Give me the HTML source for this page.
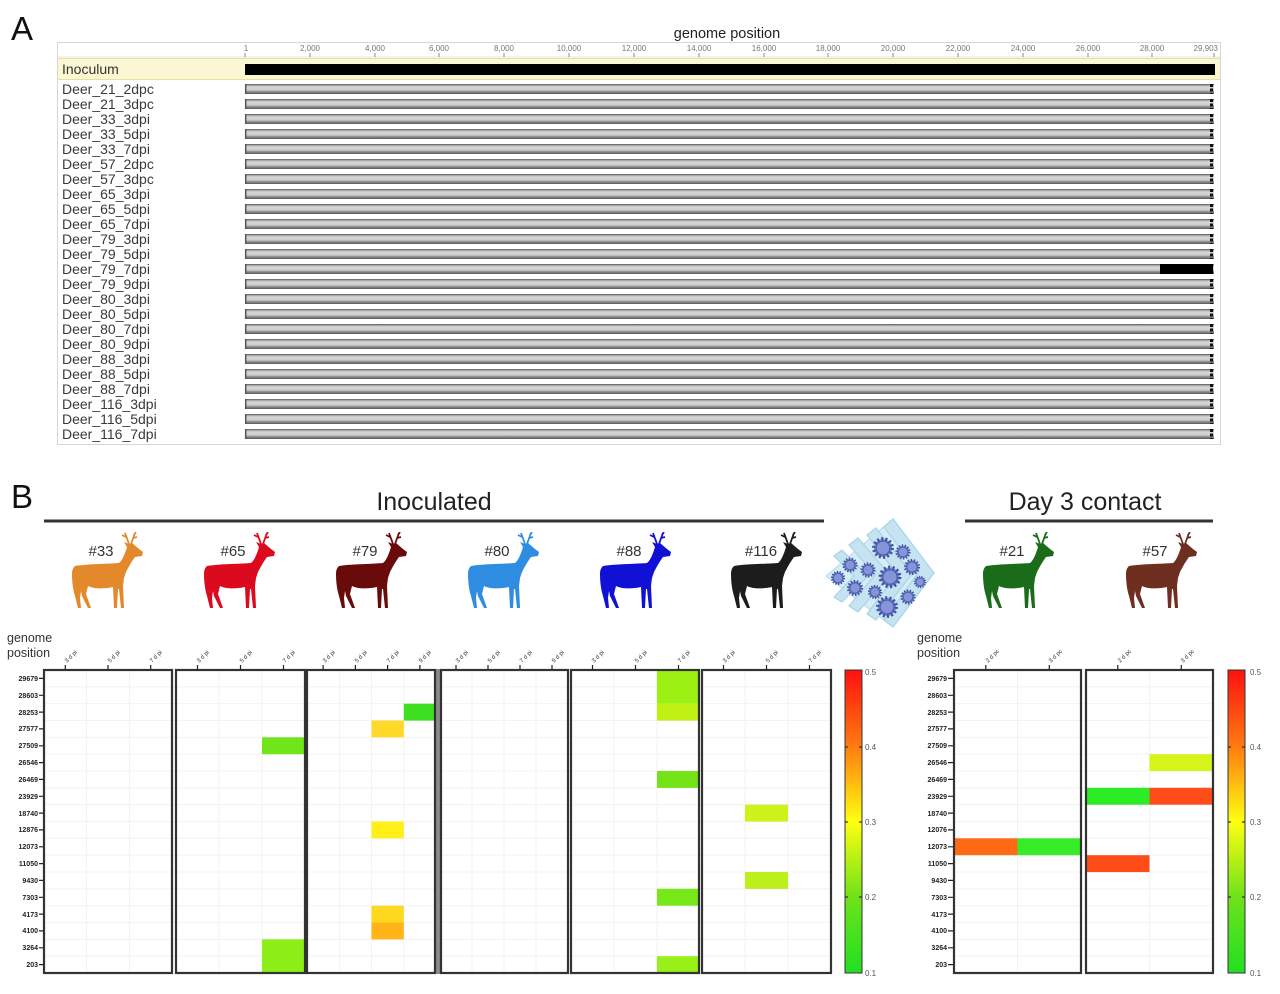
<!DOCTYPE html>
<html><head><meta charset="utf-8"><style>
html,body{margin:0;padding:0;background:#fff;}
svg{display:block;font-family:"Liberation Sans",sans-serif;}
</style></head><body>
<svg width="1280" height="994" viewBox="0 0 1280 994" xmlns="http://www.w3.org/2000/svg">
<defs>
<linearGradient id="bar" x1="0" y1="0" x2="0" y2="1">
<stop offset="0" stop-color="#555"/><stop offset="0.14" stop-color="#a8a8a8"/><stop offset="0.3" stop-color="#d6d6d6"/><stop offset="0.6" stop-color="#cdcdcd"/><stop offset="0.78" stop-color="#8a8a8a"/><stop offset="1" stop-color="#5a5a5a"/>
</linearGradient>
<linearGradient id="cb" x1="0" y1="0" x2="0" y2="1">
<stop offset="0" stop-color="#ff1010"/><stop offset="0.25" stop-color="#ff7a10"/><stop offset="0.5" stop-color="#ffff10"/><stop offset="0.75" stop-color="#6ee21a"/><stop offset="1" stop-color="#22e022"/>
</linearGradient>
<symbol id="deer" viewBox="0 0 72 76">
<path fill="currentColor" d="M3,34 C14,32 34,32 47,31 C50,29 53,22 55,15 L52,10 L57,12 L60,11 L67,17 L71,20 L70,24 L63,25 C60,29 57,34 54,40 L52,46 L51,54 L52,76 L49,76 L47,57 L46,57 L45,76 L42,76 L41,55 C32,57 22,57 16,54 L14,62 L19,76 L16,76 L10,64 L9,59 L8,66 L9,76 L6,76 L3,64 C1,58 0,50 0,42 C0,38 1,36 3,34 Z"/>
<path fill="none" stroke="currentColor" stroke-width="1.8" d="M57,12 L53,1 M54,5 L50,3 M59,12 L63,1 M61,6 L65,5 M62,3 L64,0"/>
</symbol>
<g id="vir"><circle r="8" fill="#7f90d6" stroke="#3d4f9f" stroke-width="3" stroke-dasharray="1.6 2"/><circle r="6" fill="#8595d8" stroke="#4a5aa8" stroke-width="1"/></g>
</defs>

<!-- Panel A -->
<text x="11" y="40" font-size="33" fill="#111">A</text>
<text x="727" y="38" font-size="14.5" fill="#222" text-anchor="middle">genome position</text>
<rect x="57.5" y="42.5" width="1163" height="402" fill="#fff" stroke="#d6d6d6"/>
<line x1="58" y1="57" x2="1220" y2="57" stroke="#e4e4e4"/>
<g font-size="8" fill="#777" text-anchor="middle">
<text x="246" y="51">1</text><text x="310" y="51">2,000</text><text x="375" y="51">4,000</text><text x="439" y="51">6,000</text><text x="504" y="51">8,000</text><text x="569" y="51">10,000</text><text x="634" y="51">12,000</text><text x="699" y="51">14,000</text><text x="764" y="51">16,000</text><text x="828" y="51">18,000</text><text x="893" y="51">20,000</text><text x="958" y="51">22,000</text><text x="1023" y="51">24,000</text><text x="1088" y="51">26,000</text><text x="1152" y="51">28,000</text><text x="1218" y="51" text-anchor="end">29,903</text>
</g>
<path stroke="#888" stroke-width="1" d="M245,53V57M310,53V57M375,53V57M439,53V57M504,53V57M569,53V57M634,53V57M699,53V57M764,53V57M828,53V57M893,53V57M958,53V57M1023,53V57M1088,53V57M1152,53V57M1214,53V57"/>
<rect x="58" y="58" width="1162" height="21" fill="#fbf7d2"/>
<line x1="58" y1="58.5" x2="1220" y2="58.5" stroke="#e8dfa0"/>
<line x1="58" y1="79.5" x2="1220" y2="79.5" stroke="#e8dfa0"/>
<text x="62" y="74" font-size="14" fill="#333">Inoculum</text>
<rect x="245" y="64" width="970" height="11" fill="#000"/>

<g font-size="14" fill="#3a3a3a">
<text x="62" y="94">Deer_21_2dpc</text><text x="62" y="109">Deer_21_3dpc</text><text x="62" y="124">Deer_33_3dpi</text><text x="62" y="139">Deer_33_5dpi</text><text x="62" y="154">Deer_33_7dpi</text><text x="62" y="169">Deer_57_2dpc</text><text x="62" y="184">Deer_57_3dpc</text><text x="62" y="199">Deer_65_3dpi</text><text x="62" y="214">Deer_65_5dpi</text><text x="62" y="229">Deer_65_7dpi</text><text x="62" y="244">Deer_79_3dpi</text><text x="62" y="259">Deer_79_5dpi</text><text x="62" y="274">Deer_79_7dpi</text><text x="62" y="289">Deer_79_9dpi</text><text x="62" y="304">Deer_80_3dpi</text><text x="62" y="319">Deer_80_5dpi</text><text x="62" y="334">Deer_80_7dpi</text><text x="62" y="349">Deer_80_9dpi</text><text x="62" y="364">Deer_88_3dpi</text><text x="62" y="379">Deer_88_5dpi</text><text x="62" y="394">Deer_88_7dpi</text><text x="62" y="409">Deer_116_3dpi</text><text x="62" y="424">Deer_116_5dpi</text><text x="62" y="439">Deer_116_7dpi</text>
</g>
<g fill="url(#bar)">
<rect x="245" y="84" width="969" height="10"/><rect x="245" y="99" width="969" height="10"/><rect x="245" y="114" width="969" height="10"/><rect x="245" y="129" width="969" height="10"/><rect x="245" y="144" width="969" height="10"/><rect x="245" y="159" width="969" height="10"/><rect x="245" y="174" width="969" height="10"/><rect x="245" y="189" width="969" height="10"/><rect x="245" y="204" width="969" height="10"/><rect x="245" y="219" width="969" height="10"/><rect x="245" y="234" width="969" height="10"/><rect x="245" y="249" width="969" height="10"/><rect x="245" y="264" width="969" height="10"/><rect x="245" y="279" width="969" height="10"/><rect x="245" y="294" width="969" height="10"/><rect x="245" y="309" width="969" height="10"/><rect x="245" y="324" width="969" height="10"/><rect x="245" y="339" width="969" height="10"/><rect x="245" y="354" width="969" height="10"/><rect x="245" y="369" width="969" height="10"/><rect x="245" y="384" width="969" height="10"/><rect x="245" y="399" width="969" height="10"/><rect x="245" y="414" width="969" height="10"/><rect x="245" y="429" width="969" height="10"/>
</g>
<path stroke="#555" stroke-width="1.5" d="M245.7,84v10M245.7,99v10M245.7,114v10M245.7,129v10M245.7,144v10M245.7,159v10M245.7,174v10M245.7,189v10M245.7,204v10M245.7,219v10M245.7,234v10M245.7,249v10M245.7,264v10M245.7,279v10M245.7,294v10M245.7,309v10M245.7,324v10M245.7,339v10M245.7,354v10M245.7,369v10M245.7,384v10M245.7,399v10M245.7,414v10M245.7,429v10"/>
<path stroke="#111" stroke-width="3" stroke-dasharray="3 1.5" d="M1211.5,84v10M1211.5,99v10M1211.5,114v10M1211.5,129v10M1211.5,144v10M1211.5,159v10M1211.5,174v10M1211.5,189v10M1211.5,204v10M1211.5,219v10M1211.5,234v10M1211.5,249v10M1211.5,279v10M1211.5,294v10M1211.5,309v10M1211.5,324v10M1211.5,339v10M1211.5,354v10M1211.5,369v10M1211.5,384v10M1211.5,399v10M1211.5,414v10M1211.5,429v10"/>
<rect x="1160" y="264" width="53" height="10" fill="#000"/>

<!-- Panel B header -->
<text x="11" y="508" font-size="33" fill="#111">B</text>
<text x="434" y="510" font-size="25" fill="#222" text-anchor="middle">Inoculated</text>
<text x="1085" y="510" font-size="25" fill="#222" text-anchor="middle">Day 3 contact</text>
<rect x="44" y="519.5" width="780" height="3" fill="#333"/>
<rect x="965" y="519.5" width="248" height="3" fill="#333"/>

<!-- Deer -->
<use href="#deer" x="72" y="532" width="72" height="76" style="color:#e3892b"/>
<use href="#deer" x="204" y="532" width="72" height="76" style="color:#dc0a1e"/>
<use href="#deer" x="336" y="532" width="72" height="76" style="color:#6a0b0b"/>
<use href="#deer" x="468" y="532" width="72" height="76" style="color:#2e8de0"/>
<use href="#deer" x="600" y="532" width="72" height="76" style="color:#1111d6"/>
<use href="#deer" x="731" y="532" width="72" height="76" style="color:#1c1c1c"/>
<use href="#deer" x="983" y="532" width="72" height="76" style="color:#1a6b1a"/>
<use href="#deer" x="1126" y="532" width="72" height="76" style="color:#6e2e20"/>
<g font-size="15" fill="#333" text-anchor="middle">
<text x="101" y="556">#33</text><text x="233" y="556">#65</text><text x="365" y="556">#79</text><text x="497" y="556">#80</text><text x="629" y="556">#88</text><text x="761" y="556">#116</text><text x="1012" y="556">#21</text><text x="1155" y="556">#57</text>
</g>

<!-- virus arrow -->
<path d="M826,576 L893,519 L934,573 L893,627 Z" fill="#d6ecf6" stroke="#b4d9ea" stroke-width="1"/>
<g fill="#c6e3f1" stroke="#a9d3e7" stroke-width="1.2">
<path d="M893,519 L934,573 L893,627 L884,620 L918,573 L884,527 Z"/>
<path d="M876,528 L912,574 L876,620 L867,614 L897,574 L867,535 Z"/>
<path d="M858,538 L890,575 L858,612 L849,606 L875,575 L849,545 Z"/>
<path d="M842,550 L868,576 L842,602 L834,597 L854,576 L834,556 Z"/>
</g>
<use href="#vir" transform="translate(883,548) scale(1.15)"/>
<use href="#vir" transform="translate(903,552) scale(0.8)"/>
<use href="#vir" transform="translate(850,565) scale(0.8)"/>
<use href="#vir" transform="translate(868,570) scale(0.8)"/>
<use href="#vir" transform="translate(890,577) scale(1.2)"/>
<use href="#vir" transform="translate(912,567) scale(0.85)"/>
<use href="#vir" transform="translate(838,578) scale(0.75)"/>
<use href="#vir" transform="translate(855,588) scale(0.85)"/>
<use href="#vir" transform="translate(875,592) scale(0.75)"/>
<use href="#vir" transform="translate(908,597) scale(0.8)"/>
<use href="#vir" transform="translate(920,582) scale(0.65)"/>
<use href="#vir" transform="translate(887,607) scale(1.15)"/>

<!-- heatmap labels -->
<g font-size="12.5" fill="#333">
<text x="7" y="642">genome</text><text x="7" y="657">position</text>
<text x="917" y="642">genome</text><text x="917" y="657">position</text>
</g>
<g font-size="7" font-weight="bold" fill="#222" text-anchor="end">
<text x="38" y="681">29679</text><text x="38" y="698">28603</text><text x="38" y="715">28253</text><text x="38" y="731">27577</text><text x="38" y="748">27509</text><text x="38" y="765">26546</text><text x="38" y="782">26469</text><text x="38" y="799">23929</text><text x="38" y="816">18740</text><text x="38" y="832">12876</text><text x="38" y="849">12073</text><text x="38" y="866">11050</text><text x="38" y="883">9430</text><text x="38" y="900">7303</text><text x="38" y="917">4173</text><text x="38" y="933">4100</text><text x="38" y="950">3264</text><text x="38" y="967">203</text>
</g>
<g font-size="7" font-weight="bold" fill="#222" text-anchor="end">
<text x="947" y="681">29679</text><text x="947" y="698">28603</text><text x="947" y="715">28253</text><text x="947" y="731">27577</text><text x="947" y="748">27509</text><text x="947" y="765">26546</text><text x="947" y="782">26469</text><text x="947" y="799">23929</text><text x="947" y="816">18740</text><text x="947" y="832">12076</text><text x="947" y="849">12073</text><text x="947" y="866">11050</text><text x="947" y="883">9430</text><text x="947" y="900">7303</text><text x="947" y="917">4173</text><text x="947" y="933">4100</text><text x="947" y="950">3264</text><text x="947" y="967">203</text>
</g>
<path stroke="#222" stroke-width="1.2" d="M39,678.4h5M39,695.3h5M39,712.1h5M39,728.9h5M39,745.8h5M39,762.6h5M39,779.4h5M39,796.3h5M39,813.1h5M39,829.9h5M39,846.8h5M39,863.6h5M39,880.4h5M39,897.3h5M39,914.1h5M39,930.9h5M39,947.8h5M39,964.6h5"/>
<path stroke="#222" stroke-width="1.2" d="M948,678.4h6M948,695.3h6M948,712.1h6M948,728.9h6M948,745.8h6M948,762.6h6M948,779.4h6M948,796.3h6M948,813.1h6M948,829.9h6M948,846.8h6M948,863.6h6M948,880.4h6M948,897.3h6M948,914.1h6M948,930.9h6M948,947.8h6M948,964.6h6"/>

<!-- gridlines -->
<path stroke="#f0f0f0" stroke-width="0.8" d="M44,686.8H831M44,703.7H831M44,720.5H831M44,737.3H831M44,754.2H831M44,771H831M44,787.8H831M44,804.7H831M44,821.5H831M44,838.3H831M44,855.2H831M44,872H831M44,888.8H831M44,905.7H831M44,922.5H831M44,939.3H831M44,956.2H831M954,686.8H1213M954,703.7H1213M954,720.5H1213M954,737.3H1213M954,754.2H1213M954,771H1213M954,787.8H1213M954,804.7H1213M954,821.5H1213M954,838.3H1213M954,855.2H1213M954,872H1213M954,888.8H1213M954,905.7H1213M954,922.5H1213M954,939.3H1213M954,956.2H1213"/>
<path stroke="#f0f0f0" stroke-width="0.8" d="M86.7,670V973M129.3,670V973M219,670V973M262,670V973M339.3,670V973M371.5,670V973M403.8,670V973M472,670V973M504,670V973M536,670V973M614,670V973M657,670V973M745,670V973M788,670V973M1017.5,670V973M1149.5,670V973"/>

<!-- cells -->
<rect x="262" y="737.3" width="42" height="16.9" fill="#6ee61a"/>
<rect x="262" y="939.3" width="42" height="33.7" fill="#8cf018"/>
<rect x="403.8" y="703.7" width="32" height="16.9" fill="#3ce020"/>
<rect x="371.5" y="720.5" width="32.3" height="16.9" fill="#ffd92a"/>
<rect x="371.5" y="821.5" width="32.3" height="16.9" fill="#fff01a"/>
<rect x="371.5" y="905.7" width="32.3" height="16.9" fill="#ffd820"/>
<rect x="371.5" y="922.5" width="32.3" height="16.9" fill="#ffb418"/>
<rect x="657" y="670" width="42" height="33.7" fill="#9cf014"/>
<rect x="657" y="703.7" width="42" height="16.9" fill="#c0f014"/>
<rect x="657" y="771" width="42" height="16.9" fill="#74e418"/>
<rect x="657" y="888.8" width="42" height="16.9" fill="#78e818"/>
<rect x="657" y="956.2" width="42" height="16.8" fill="#98f018"/>
<rect x="745" y="804.7" width="43" height="16.9" fill="#ccf41a"/>
<rect x="745" y="872" width="43" height="16.9" fill="#bcf01a"/>
<rect x="954" y="838.3" width="63.5" height="16.9" fill="#ff6a14"/>
<rect x="1017.5" y="838.3" width="63.5" height="16.9" fill="#36ec26"/>
<rect x="1149.5" y="754.2" width="63.5" height="16.9" fill="#d6f41a"/>
<rect x="1086" y="787.8" width="63.5" height="16.9" fill="#2cec26"/>
<rect x="1149.5" y="787.8" width="63.5" height="16.9" fill="#ff4c18"/>
<rect x="1086" y="855.2" width="63.5" height="16.9" fill="#ff4c18"/>

<!-- frames -->
<rect x="434" y="669" width="7" height="305" fill="#8a8a8a"/>
<g fill="none" stroke="#333" stroke-width="2.2">
<rect x="44" y="670" width="128" height="303"/>
<rect x="176" y="670" width="129" height="303"/>
<rect x="307" y="670" width="128" height="303"/>
<rect x="441" y="670" width="127" height="303"/>
<rect x="571" y="670" width="128" height="303"/>
<rect x="702" y="670" width="129" height="303"/>
<rect x="954" y="670" width="127" height="303"/>
<rect x="1086" y="670" width="127" height="303"/>
</g>
<!-- column ticks -->
<path stroke="#222" stroke-width="1.2" d="M65.3,665v5M108,665v5M150.7,665v5M197.5,665v5M240.5,665v5M283.5,665v5M323.1,665v5M355.4,665v5M387.6,665v5M419.9,665v5M456,665v5M488,665v5M520,665v5M552,665v5M592.5,665v5M635.5,665v5M678.5,665v5M723.5,665v5M766.5,665v5M809.5,665v5M985.8,665v5M1049.3,665v5M1117.8,665v5M1181.3,665v5"/>
<g font-size="6" fill="#333">
<text transform="translate(67,663) rotate(-45)">3 d pi</text><text transform="translate(110,663) rotate(-45)">5 d pi</text><text transform="translate(152,663) rotate(-45)">7 d pi</text>
<text transform="translate(199,663) rotate(-45)">3 d pi</text><text transform="translate(242,663) rotate(-45)">5 d pi</text><text transform="translate(285,663) rotate(-45)">7 d pi</text>
<text transform="translate(325,663) rotate(-45)">3 d pi</text><text transform="translate(357,663) rotate(-45)">5 d pi</text><text transform="translate(389,663) rotate(-45)">7 d pi</text><text transform="translate(421,663) rotate(-45)">9 d pi</text>
<text transform="translate(458,663) rotate(-45)">3 d pi</text><text transform="translate(490,663) rotate(-45)">5 d pi</text><text transform="translate(522,663) rotate(-45)">7 d pi</text><text transform="translate(554,663) rotate(-45)">9 d pi</text>
<text transform="translate(594,663) rotate(-45)">3 d pi</text><text transform="translate(637,663) rotate(-45)">5 d pi</text><text transform="translate(680,663) rotate(-45)">7 d pi</text>
<text transform="translate(725,663) rotate(-45)">3 d pi</text><text transform="translate(768,663) rotate(-45)">5 d pi</text><text transform="translate(811,663) rotate(-45)">7 d pi</text>
<text transform="translate(988,663) rotate(-45)">2 d pc</text><text transform="translate(1051,663) rotate(-45)">3 d pc</text>
<text transform="translate(1120,663) rotate(-45)">2 d pc</text><text transform="translate(1183,663) rotate(-45)">3 d pc</text>
</g>

<!-- colorbars -->
<rect x="845" y="670" width="17" height="303" fill="url(#cb)" stroke="#333" stroke-width="1"/>
<rect x="1228" y="670" width="17" height="303" fill="url(#cb)" stroke="#333" stroke-width="1"/>
<path stroke="#333" stroke-width="1.3" d="M845,747h3M859,747h3M845,822h3M859,822h3M845,897h3M859,897h3M1228,747h3M1242,747h3M1228,822h3M1242,822h3M1228,897h3M1242,897h3"/>
<g font-size="8" fill="#555">
<text x="865" y="675">0.5</text><text x="865" y="750">0.4</text><text x="865" y="825">0.3</text><text x="865" y="900">0.2</text><text x="865" y="976">0.1</text>
<text x="1250" y="675">0.5</text><text x="1250" y="750">0.4</text><text x="1250" y="825">0.3</text><text x="1250" y="900">0.2</text><text x="1250" y="976">0.1</text>
</g>
</svg>
</body></html>
